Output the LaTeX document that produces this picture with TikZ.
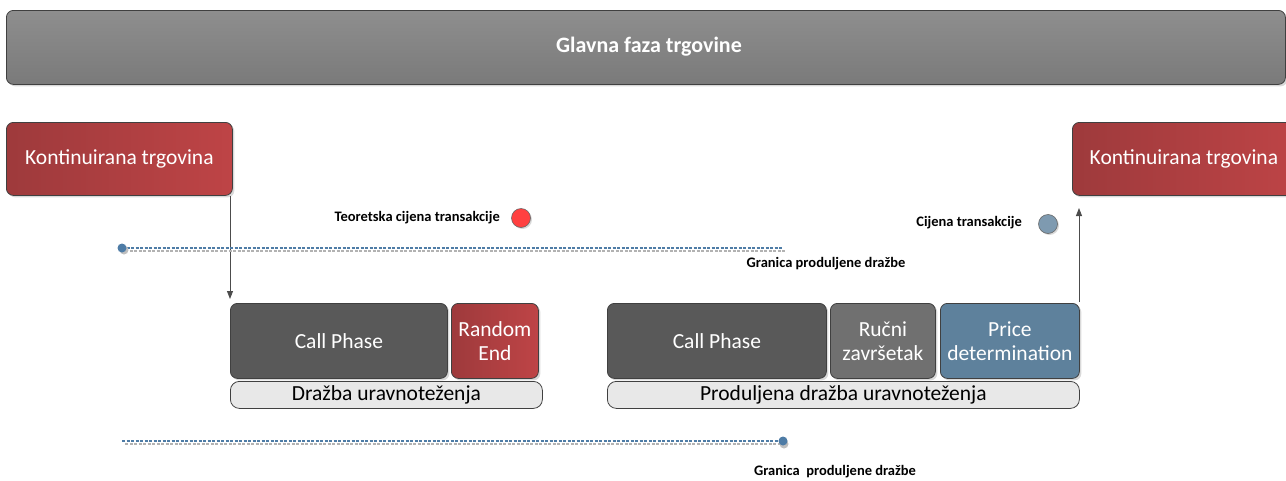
\documentclass[tikz,border=0pt]{standalone}
\usepackage{fontspec}
\setmainfont{Carlito}
\usetikzlibrary{arrows.meta,shadows}
\definecolor{redA}{HTML}{9E3A3C}
\definecolor{redB}{HTML}{BE4446}
\definecolor{grayBox}{HTML}{595959}
\definecolor{grayMid}{HTML}{707070}
\definecolor{blueBox}{HTML}{5E819C}
\definecolor{barFill}{HTML}{E8E8E8}
\definecolor{dashBlue}{HTML}{4E7CA6}
\definecolor{topA}{HTML}{8E8E8E}
\definecolor{topB}{HTML}{7A7A7A}
\tikzset{
  box/.style={rounded corners=7pt, draw=black!75, line width=0.8pt, text=white, font=\fontsize{21.5}{24}\selectfont, align=center, inner sep=0pt, drop shadow={shadow xshift=2pt,shadow yshift=-2pt,opacity=0.3}},
  redbox/.style={box, left color=redA, right color=redB},
  graybox/.style={box, fill=grayBox},
  midbox/.style={box, fill=grayMid},
  bluebox/.style={box, fill=blueBox},
  barbox/.style={rounded corners=9pt, draw=black!75, line width=0.8pt, fill=barFill, text=black, font=\fontsize{21.5}{24}\selectfont, inner sep=0pt},
  lbl/.style={font=\bfseries\fontsize{14.5}{17}\selectfont, text=black, inner sep=0pt},
  bnd/.style={dashBlue, dashed, dash pattern=on 3pt off 1.5pt, line width=1.6pt},
  bndshadow/.style={black!30, dashed, dash pattern=on 3pt off 1.5pt, line width=1.6pt},
  arr/.style={draw=black!70, line width=0.9pt, -{Triangle[length=8pt,width=6pt]}},
}
\begin{document}
\begin{tikzpicture}[x=1pt,y=-1pt]
\useasboundingbox (0,0) rectangle (1286,480);
% top bar
\node[box, top color=topA, bottom color=topB, minimum width=1279pt, minimum height=74pt, anchor=north west] (top) at (6,10) {};
\node[text=white, font=\bfseries\fontsize{22}{25}\selectfont] (toplabel) at (649,47) {Glavna faza trgovine};
% red boxes
\node[redbox, minimum width=226pt, minimum height=73pt, anchor=north west] (kl) at (6,122) {Kontinuirana trgovina};
\node[redbox, minimum width=230pt, minimum height=73pt, anchor=north west] (kr) at (1072,122) {Kontinuirana trgovina\hspace*{7pt}};
% left group
\node[graybox, minimum width=217pt, minimum height=75pt, anchor=north west] (cp1) at (230,303) {Call Phase};
\node[redbox, minimum width=87pt, minimum height=75pt, anchor=north west] (re) at (451,303) {Random\\End};
\node[barbox, minimum width=312pt, minimum height=27pt, anchor=north west] (b1) at (230,381) {Dražba uravnoteženja};
% right group
\node[graybox, minimum width=219pt, minimum height=75pt, anchor=north west] (cp2) at (607,303) {Call Phase};
\node[midbox, minimum width=105pt, minimum height=75pt, anchor=north west] (rz) at (830,303) {Ručni\\završetak};
\node[bluebox, minimum width=139pt, minimum height=75pt, anchor=north west] (pd) at (940,303) {Price\\determination};
\node[barbox, minimum width=472pt, minimum height=27pt, anchor=north west] (b2) at (607,381) {Produljena dražba uravnoteženja};
% arrows
\coordinate (a1s) at (230,196);
\coordinate (a1e) at (230,299);
\draw[arr] (a1s) -- (a1e);
\coordinate (a2s) at (1079,302);
\coordinate (a2e) at (1079,208);
\draw[arr] (a2s) -- (a2e);
% boundary lines
\coordinate (l1a) at (122,248);
\coordinate (l1b) at (782,248);
\draw[bndshadow] ([shift={(3,3)}]l1a) -- ([shift={(3,3)}]l1b);
\draw[bnd] (l1a) -- (l1b);
\fill[black!25] ([shift={(2,2)}]l1a) circle (4.5pt);
\fill[dashBlue] (l1a) circle (4.5pt);
\coordinate (l2a) at (122,441);
\coordinate (l2b) at (783,441);
\draw[bndshadow] ([shift={(3,3)}]l2a) -- ([shift={(3,3)}]l2b);
\draw[bnd] (l2a) -- (l2b);
\fill[black!25] ([shift={(1,3)}]l2b) circle (4.5pt);
\fill[dashBlue] (l2b) circle (4.5pt);
% labels
\node[lbl, anchor=east] (tl) at (500,218) {Teoretska cijena transakcije};
\node[circle, draw=black!60, line width=0.6pt, fill=red!75!white, minimum size=19pt, inner sep=0pt, drop shadow={shadow xshift=1.5pt,shadow yshift=-1.5pt,opacity=0.3}] (rc) at (521,218) {};
\node[lbl, anchor=east] (cl) at (1022,223) {Cijena transakcije};
\node[circle, draw=black!60, line width=0.6pt, fill=blueBox!80!white, minimum size=19pt, inner sep=0pt, drop shadow={shadow xshift=1.5pt,shadow yshift=-1.5pt,opacity=0.3}] (bc) at (1048,224) {};
\node[lbl] (g1) at (826,264) {Granica produljene dražbe};
\node[lbl] (g2) at (835,472) {Granica\ \ produljene dražbe};
\end{tikzpicture}
\end{document}
